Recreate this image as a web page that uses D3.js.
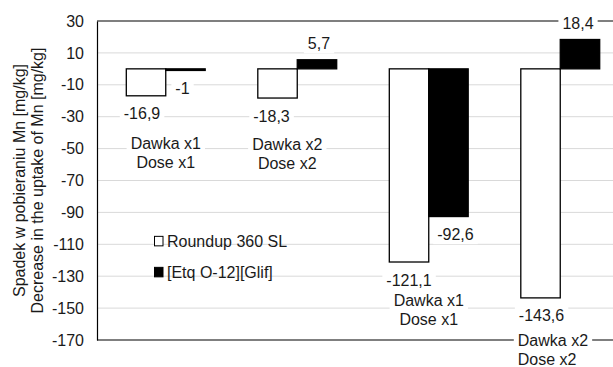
<!DOCTYPE html>
<html>
<head>
<meta charset="utf-8">
<script src="https://cdn.jsdelivr.net/npm/d3@7"></script>
<style>
  html, body { margin: 0; padding: 0; background: #fff; }
  svg { display: block; font-family: "Liberation Sans", Arial, sans-serif; }
</style>
</head>
<body>
<svg id="chart" width="613" height="367"></svg>
<script>
// ---- data ----
const catLine1 = ["Dawka x1", "Dawka x2", "Dawka x1", "Dawka x2"];
const catLine2 = ["Dose x1", "Dose x2", "Dose x1", "Dose x2"];
const seriesNames = ["Roundup 360 SL", "[Etq O-12][Glif]"];
const roundup = [-16.9, -18.3, -121.1, -143.6];
const etq = [-1, 5.7, -92.6, 18.4];
const yTicks = [30, 10, -10, -30, -50, -70, -90, -110, -130, -150, -170];
const yTitle1 = "Spadek w pobieraniu Mn [mg/kg]";
const yTitle2 = "Decrease in the uptake of Mn [mg/kg]";

// ---- layout ----
const W = 613, H = 367;
const plotLeft = 97, plotTop = 21, plotBottom = 340;
const svg = d3.select("#chart");
const textColor = "#1a1a1a";
const fontSize = 16;
// manual label nudges (layout only), per group
const catNudgeX = [0, -10, 0, 0];
const catNudgeY = [4, 2, -6, -1];
const catAnchor = ["middle", "middle", "middle", "start"];
const valNudgeX = [[-4, -3], [-6, 2], [0, 7], [1, -2]];

const y = d3.scaleLinear().domain([-170, 30]).range([plotBottom, plotTop]);
const x0 = d3.scaleBand().domain(d3.range(catLine1.length)).range([100, 626])
  .paddingInner(0.4).paddingOuter(0.2);
const x1 = d3.scaleBand().domain([0, 1]).range([0, x0.bandwidth()]).padding(0);

const seriesValues = [roundup, etq];
const fills = ["#ffffff", "#000000"];

// gridlines
svg.append("g").selectAll("line")
  .data(yTicks.filter(t => t !== 30 && t !== -170))
  .join("line")
  .attr("x1", plotLeft).attr("x2", W)
  .attr("y1", d => y(d)).attr("y2", d => y(d))
  .attr("stroke", "#d9d9d9").attr("stroke-width", 1);

// top & bottom border lines
svg.append("g").selectAll("line")
  .data([30, -170])
  .join("line")
  .attr("x1", plotLeft).attr("x2", W)
  .attr("y1", d => y(d)).attr("y2", d => y(d))
  .attr("stroke", "#000").attr("stroke-width", 1.2);

// y axis
const yAxis = d3.axisLeft(y).tickValues(yTicks).tickSize(0).tickPadding(13)
  .tickFormat(d => d3.format("d")(d).replace("−", "-"));
const ga = svg.append("g").attr("transform", `translate(${plotLeft},0)`).call(yAxis);
ga.select(".domain").attr("stroke", "#000").attr("stroke-width", 1.2);
ga.selectAll("text").attr("font-size", fontSize).attr("fill", textColor)
  .attr("font-family", "Liberation Sans, Arial, sans-serif");

// y title
const cy = (plotTop + plotBottom) / 2;
svg.append("text")
  .attr("transform", `translate(25,${cy}) rotate(-90)`)
  .attr("text-anchor", "middle").attr("font-size", fontSize).attr("fill", textColor)
  .text(yTitle1);
svg.append("text")
  .attr("transform", `translate(43,${cy}) rotate(-90)`)
  .attr("text-anchor", "middle").attr("font-size", fontSize).attr("fill", textColor)
  .text(yTitle2);

// bars
const barData = [];
catLine1.forEach((c, i) => {
  seriesValues.forEach((vals, s) => {
    barData.push({ i, s, v: vals[i] });
  });
});

svg.append("g").selectAll("rect")
  .data(barData)
  .join("rect")
  .attr("x", d => x0(d.i) + x1(d.s))
  .attr("width", x1.bandwidth())
  .attr("y", d => Math.min(y(d.v), y(0)))
  .attr("height", d => Math.abs(y(d.v) - y(0)))
  .attr("fill", d => fills[d.s])
  .attr("stroke", "#000").attr("stroke-width", 1.3);

// label helper with white background
function boxedText(g, x, yc, txt, anchor) {
  const t = g.append("text")
    .attr("x", x).attr("y", yc).attr("dy", "0.35em")
    .attr("text-anchor", anchor || "middle")
    .attr("font-size", fontSize).attr("fill", textColor)
    .text(txt);
  const bb = t.node().getBBox();
  g.insert("rect", "text")
    .attr("x", bb.x - 4).attr("y", bb.y - 1)
    .attr("width", bb.width + 8).attr("height", bb.height + 2)
    .attr("fill", "#fff");
  return t;
}

const fmt = v => String(v).replace(".", ",");

// value labels
const lblG = svg.append("g");
barData.forEach(d => {
  const cx = x0(d.i) + x1(d.s) + x1.bandwidth() / 2 + valNudgeX[d.i][d.s];
  const yc = d.v < 0 ? y(d.v) + 18 : y(d.v) - 16;
  const g = lblG.append("g");
  boxedText(g, cx, yc, fmt(d.v));
});

// category labels
const catG = svg.append("g");
catLine1.forEach((c, i) => {
  const minV = Math.min(roundup[i], etq[i]);
  const anchor = catAnchor[i];
  const cx = (anchor === "start" ? x0(i) - 3 : x0(i) + x0.bandwidth() / 2) + catNudgeX[i];
  const yc = y(minV) + 44 + catNudgeY[i];
  const g = catG.append("g");
  boxedText(g, cx, yc, catLine1[i], anchor);
  const g2 = catG.append("g");
  boxedText(g2, cx, yc + 19, catLine2[i], anchor);
});

// legend
const lg = svg.append("g");
seriesNames.forEach((name, s) => {
  const ly = y(-100) + s * 31 + 13;
  lg.append("rect").attr("x", 154.5).attr("y", ly - 5).attr("width", 8.5).attr("height", 9.5)
    .attr("fill", fills[s]).attr("stroke", "#000").attr("stroke-width", 1);
  lg.append("text").attr("x", 167).attr("y", ly).attr("dy", "0.35em")
    .attr("font-size", fontSize).attr("fill", textColor).text(name);
});
</script>
</body>
</html>
